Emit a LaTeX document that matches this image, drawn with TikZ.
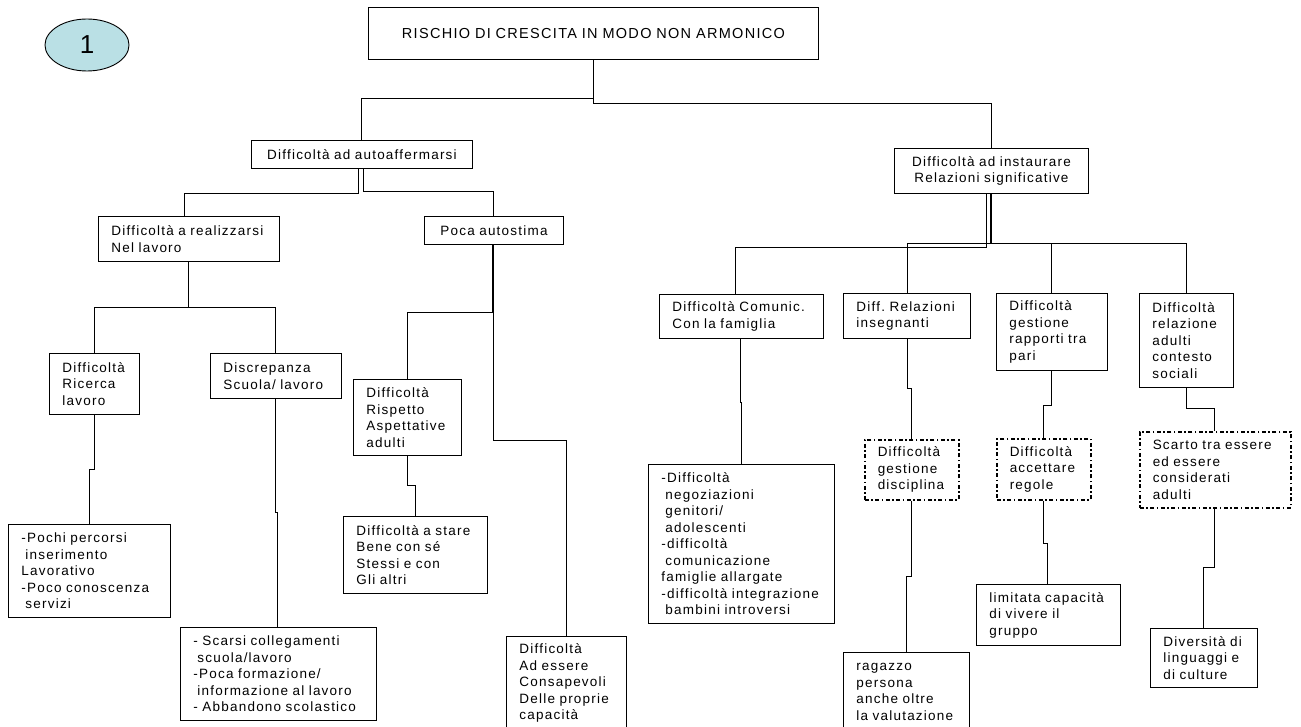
\documentclass[tikz,border=0pt]{standalone}
\usepackage{fontspec}
\setmainfont{Liberation Sans}
\newfontfamily\boxfont[LetterSpace=9]{Liberation Sans}
\usepackage{xcolor}
\usepackage{tikz}
\usetikzlibrary{shapes.geometric}
\definecolor{numfill}{RGB}{186,224,229}
\newcommand{\indl}{\hspace*{4pt}}
\tikzset{
  box/.style={draw, line width=0.9pt, anchor=north west, align=left,
    inner xsep=13pt, inner ysep=2pt, font=\boxfont\fontsize{13.5}{16.5}\selectfont},
  cbox/.style={box, align=center},
  dotbox/.style={box, line width=1.5pt, dash pattern=on 4pt off 2.5pt on 1.5pt off 2.5pt},
  link/.style={line width=0.8pt},
  thicklink/.style={line width=1.6pt}
}

\begin{document}
\begin{tikzpicture}[x=1pt, y=-1pt]
    \useasboundingbox (0,0) rectangle (1301,727);

    \node[ellipse, draw, line width=0.9pt, fill=numfill, minimum width=84pt,
        minimum height=52pt, font=\fontsize{26}{26}\selectfont] (num) at (87,45) {1};

    % root and first level
    \node[cbox, text width=424pt, minimum height=52pt,
        font=\boxfont\fontsize{14.5}{17}\selectfont] (title) at (368,7)
        {RISCHIO DI CRESCITA IN MODO NON ARMONICO};
    \node[cbox, text width=195pt, minimum height=28pt] (auto) at (251,140)
        {Difficoltà ad autoaffermarsi};
    \node[cbox, text width=168pt, minimum height=45pt] (instaur) at (894,148)
        {Difficoltà ad instaurare\\Relazioni significative};

    % left side
    \node[box, text width=155pt, minimum height=45pt] (real) at (98,216)
        {Difficoltà a realizzarsi\\Nel lavoro};
    \node[cbox, text width=113pt, minimum height=28pt] (poca) at (424,216)
        {Poca autostima};
    \node[box, text width=64pt, minimum height=61pt] (ricerca) at (49,353)
        {Difficoltà\\Ricerca\\lavoro};
    \node[box, text width=105pt, minimum height=45pt] (discr) at (210,353)
        {Discrepanza\\Scuola/ lavoro};
    \node[box, text width=82pt, minimum height=76pt] (rispetto) at (353,379)
        {Difficoltà\\Rispetto\\Aspettative\\adulti};
    \node[box, text width=118pt, minimum height=77pt] (stare) at (343,516)
        {Difficoltà a stare\\Bene con sé\\Stessi e con\\Gli altri};
    \node[box, text width=94pt, minimum height=93pt] (essere) at (506,636)
        {Difficoltà\\Ad essere\\Consapevoli\\Delle proprie\\capacità};
    \node[box, text width=136pt, minimum height=93pt] (pochi) at (8,524)
        {-Pochi percorsi\\\indl inserimento\\Lavorativo\\-Poco conoscenza\\\indl servizi};
    \node[box, text width=170pt, minimum height=93pt] (scarsi) at (180,627)
        {- Scarsi collegamenti\\\indl scuola/lavoro\\-Poca formazione/\\\indl informazione al lavoro\\- Abbandono scolastico};

    % right side
    \node[box, text width=138pt, minimum height=44pt] (comunic) at (659,294)
        {Difficoltà Comunic.\\Con la famiglia};
    \node[box, text width=101pt, minimum height=45pt] (insegn) at (843,293)
        {Diff.\ Relazioni\\insegnanti};
    \node[box, text width=85pt, minimum height=77pt] (pari) at (996,293)
        {Difficoltà\\gestione\\rapporti tra\\pari};
    \node[box, text width=68pt, minimum height=94pt] (sociali) at (1139,293)
        {Difficoltà\\relazione\\adulti\\contesto\\sociali};
    \node[box, text width=160pt, minimum height=159pt] (famiglia) at (648,464)
        {-Difficoltà\\\indl negoziazioni\\\indl genitori/\\\indl adolescenti\\-difficoltà\\\indl comunicazione\\famiglie allargate\\-difficoltà integrazione\\\indl bambini introversi};
    \node[dotbox, text width=68pt, minimum height=60pt] (discip) at (864,439)
        {Difficoltà\\gestione\\disciplina};
    \node[dotbox, text width=68pt, minimum height=61pt] (regole) at (996,438)
        {Difficoltà\\accettare\\regole};
    \node[dotbox, text width=125pt, minimum height=76pt] (scarto) at (1139,431)
        {Scarto tra essere\\ed essere\\considerati\\adulti};
    \node[box, text width=100pt, minimum height=79pt] (ragazzo) at (843,652)
        {ragazzo\\persona\\anche oltre\\la valutazione};
    \node[box, text width=118pt, minimum height=61pt] (limitata) at (976,584)
        {limitata capacità\\di vivere il\\gruppo};
    \node[box, text width=81pt, minimum height=59pt] (diversita) at (1150,628)
        {Diversità di\\linguaggi e\\di culture};

    % connectors
    \draw[link] (title.south -| 593,0) -- ++(0,39) -| (auto.north -| 361,0);
    \draw[link] (title.south -| 593,0) -- ++(0,44) -| (instaur.north -| 991,0);
    \draw[link] (auto.south -| 358,0) -- ++(0,25) -| (real.north -| 184,0);
    \draw[link] (auto.south -| 363,0) -- ++(0,23) -| (poca.north -| 493,0);
    \draw[link] (real.south -| 188,0) -- ++(0,46) -| (ricerca.north -| 94,0);
    \draw[link] (real.south -| 188,0) -- ++(0,46) -| (discr.north -| 275,0);
    \draw[link] (ricerca.south -| 94,0) -- ++(0,54) -- ++(-5,0) -- (pochi.north -| 89,0);
    \draw[link] (discr.south -| 275,0) -- ++(0,113) -- ++(2,0) -- (scarsi.north -| 277,0);
    \draw[thicklink] (poca.south -| 493,0) -- ++(0,68);
    \draw[link] (poca.south -| 493,0) -- ++(0,68) -| (rispetto.north -| 407,0);
    \draw[link] (poca.south -| 493,0) -- ++(0,195) -| (essere.north -| 566,0);
    \draw[link] (rispetto.south -| 407,0) -- ++(0,29) -- ++(8,0) -- (stare.north -| 415,0);

    \draw[thicklink] (instaur.south -| 991,0) -- ++(0,50);
    \draw[link] (instaur.south -| 991,0) -- ++(0,50) -| (insegn.north -| 907,0);
    \draw[link] (instaur.south -| 991,0) -- ++(0,50) -| (pari.north -| 1051,0);
    \draw[link] (instaur.south -| 991,0) -- ++(0,50) -| (sociali.north -| 1186,0);
    \draw[link] (instaur.south -| 986,0) -- ++(0,54) -| (comunic.north -| 735,0);
    \draw[link] (comunic.south -| 740,0) -- ++(0,63) -- ++(1,0) -- (famiglia.north -| 741,0);
    \draw[link] (insegn.south -| 907,0) -- ++(0,49) -- ++(4,0) -- (discip.north -| 911,0);
    \draw[link] (discip.south -| 911,0) -- ++(0,76) -- ++(-5,0) -- (ragazzo.north -| 906,0);
    \draw[link] (pari.south -| 1051,0) -- ++(0,34) -- ++(-8,0) -- (regole.north -| 1043,0);
    \draw[link] (regole.south -| 1043,0) -- ++(0,43) -- ++(4,0) -- (limitata.north -| 1047,0);
    \draw[link] (sociali.south -| 1186,0) -- ++(0,20) -| (scarto.north -| 1214,0);
    \draw[link] (scarto.south -| 1214,0) -- ++(0,59) -| (diversita.north -| 1203,0);
\end{tikzpicture}
\end{document}
